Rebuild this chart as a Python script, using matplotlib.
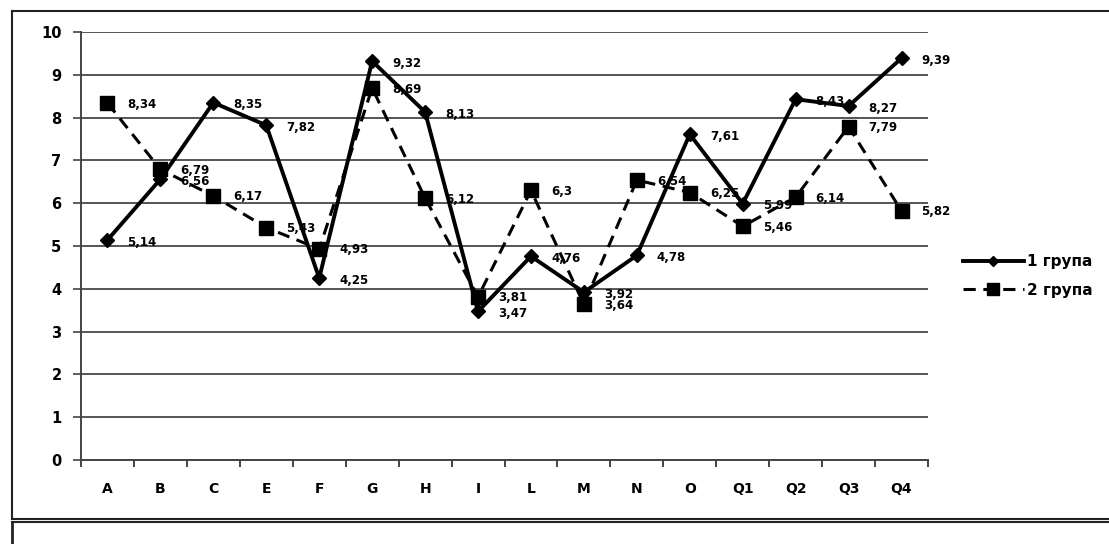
import numpy as np
import matplotlib
matplotlib.use("Agg")
import matplotlib.pyplot as plt
from matplotlib.lines import Line2D

categories = ['A', 'B', 'C', 'E', 'F', 'G', 'H', 'I', 'L', 'M', 'N', 'O', 'Q1', 'Q2', 'Q3', 'Q4']
group1 = [5.14, 6.56, 8.35, 7.82, 4.25, 9.32, 8.13, 3.47, 4.76, 3.92, 4.78, 7.61, 5.99, 8.43, 8.27, 9.39]
group2 = [8.34, 6.79, 6.17, 5.43, 4.93, 8.69, 6.12, 3.81, 6.3, 3.64, 6.54, 6.25, 5.46, 6.14, 7.79, 5.82]
labels = ['1 група', '2 група']

W, H = 1109, 544
fig = plt.figure(figsize=(W / 100, H / 100), dpi=100)
plt.rcParams['font.family'] = ['DejaVu Sans']

# outer frame (no right edge visible in the source) + second box below
def fline(xs, ys, lw=1.5):
    fig.add_artist(Line2D([v / W for v in xs], [1 - v / H for v in ys],
                          transform=fig.transFigure, color='#222222', lw=lw))

fline([12, W], [11, 11])
fline([12, 12], [11, 519])
fline([12, W], [519, 519])
fline([12, W], [522, 522])
fline([12, 12], [522, H], lw=2)

ax = fig.add_axes([81 / W, 84 / H, (928 - 81) / W, 428 / H])
x = np.arange(len(categories))

ax.set_ylim(0, 10)
ax.set_xlim(-0.5, len(categories) - 0.5)
ax.set_yticks(range(0, 11))
ax.yaxis.grid(True, color='#555555', lw=1.4)
ax.set_axisbelow(True)
for s in ['top', 'right']:
    ax.spines[s].set_visible(False)
ax.spines['left'].set_color('#444444')
ax.spines['bottom'].set_color('#444444')
ax.spines['left'].set_linewidth(1.4)
ax.spines['bottom'].set_linewidth(1.4)

ax.set_xticks(x)
ax.set_xticklabels(categories, fontsize=10, fontweight='bold')
ax.tick_params(axis='x', length=0, pad=16)
ax.set_xticks(np.arange(-0.5, len(categories)), minor=True)
ax.tick_params(axis='x', which='minor', length=5, width=1.4, color='#444444', direction='out')
ax.tick_params(axis='y', length=6, width=1.2, color='#444444', pad=8, labelsize=10.5)
for t in ax.get_yticklabels():
    t.set_fontweight('bold')

ax.plot(x, group1, '-', color='black', lw=2.8, marker='D', ms=7, mfc='black', mec='black', label=labels[0], zorder=4)
ax.plot(x, group2, '--', color='black', lw=2.2, dashes=(4, 2.5), marker='s', ms=10, mfc='black', mec='black',
        label=labels[1], zorder=3)

# data labels to the right of each point
for xs, v in zip(x, group1):
    ax.annotate(f'{v:g}'.replace('.', ','), (xs, v), xytext=(20, -2), textcoords='offset pixels',
                fontsize=8.5, fontweight='bold', va='center', ha='left', zorder=5)
for xs, v in zip(x, group2):
    ax.annotate(f'{v:g}'.replace('.', ','), (xs, v), xytext=(20, -1), textcoords='offset pixels',
                fontsize=8.5, fontweight='bold', va='center', ha='left', zorder=5)

ax.legend(loc='center left', bbox_to_anchor=(1.025, 0.43), frameon=False,
          handlelength=4.0, handletextpad=0.2, labelspacing=0.9, markerscale=0.8,
          prop={'weight': 'bold', 'size': 11})

fig.savefig('out.png', dpi=100)
